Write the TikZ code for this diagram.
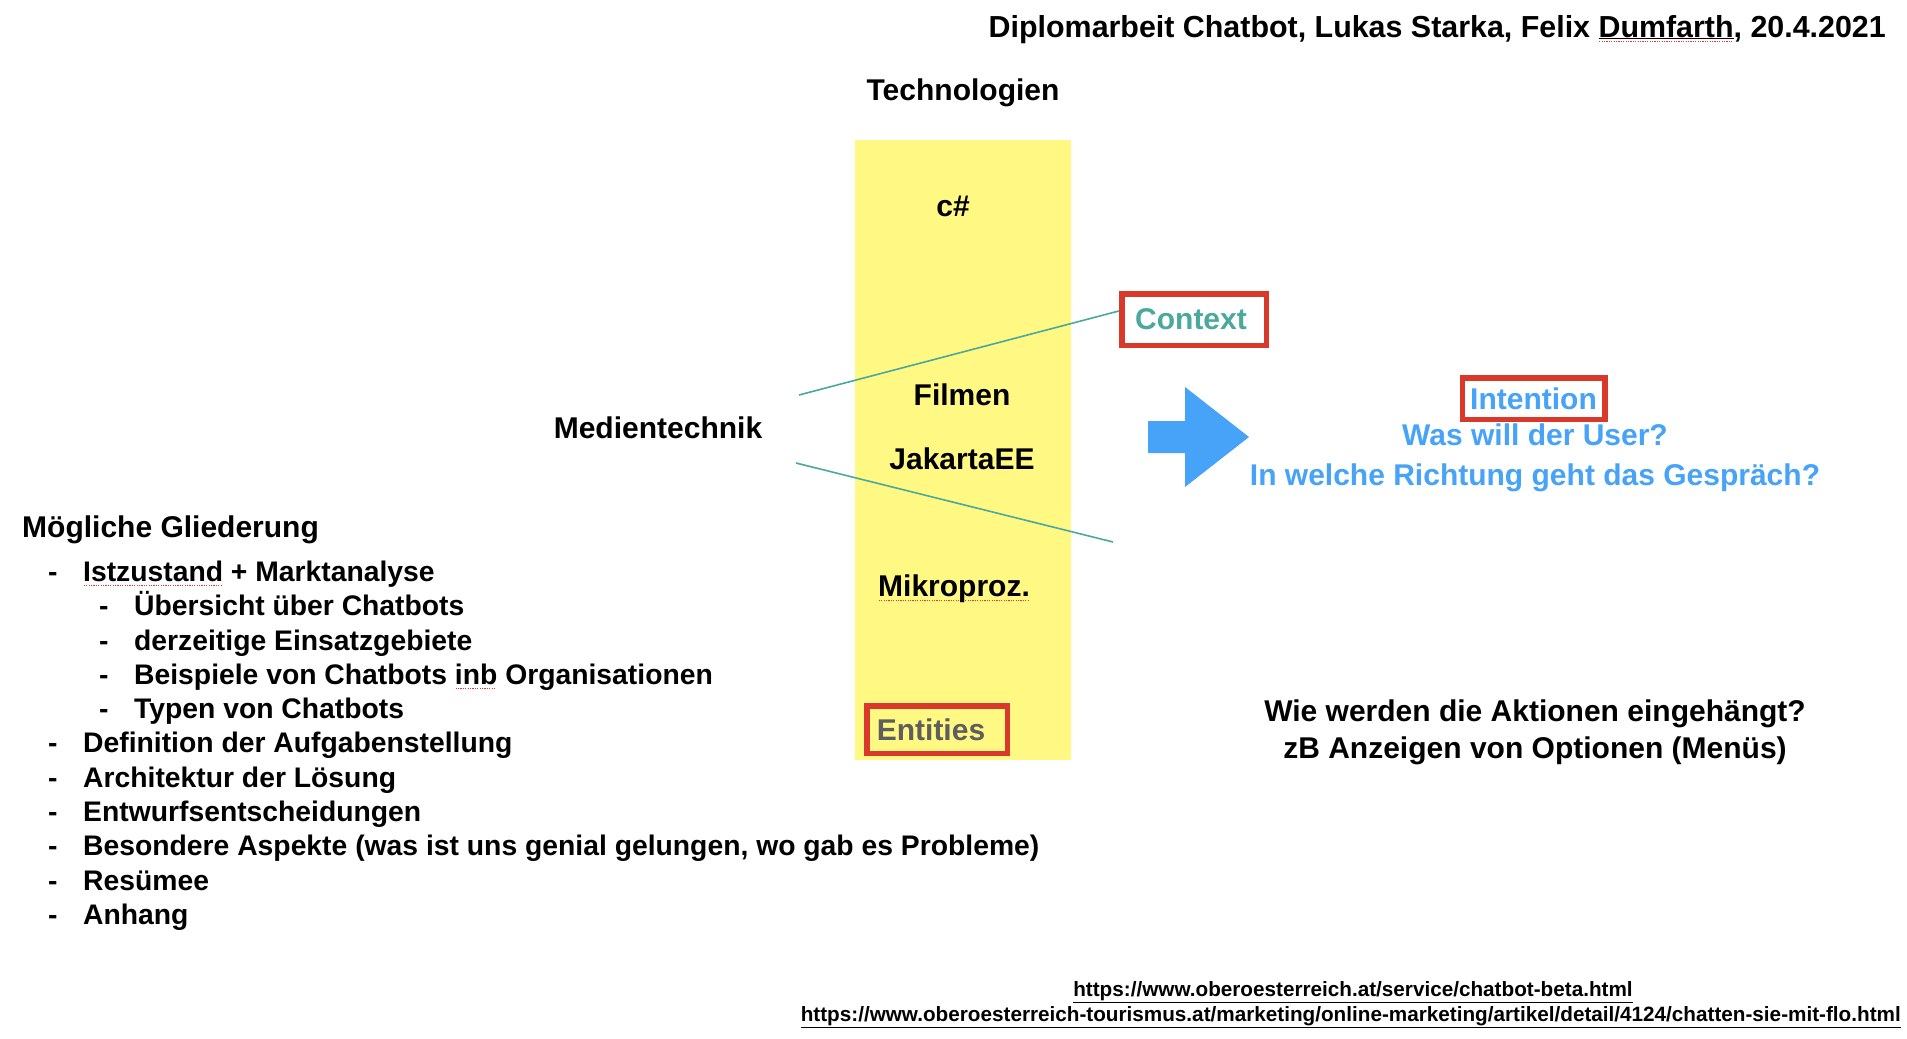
\documentclass[tikz,border=0pt]{standalone}
\usepackage{fontspec}
\setmainfont{Liberation Sans}
\usetikzlibrary{calc}
\definecolor{hlyellow}{RGB}{255,248,131}
\definecolor{ctxteal}{RGB}{75,168,156}
\definecolor{intblue}{RGB}{71,163,247}
\definecolor{boxred}{RGB}{217,57,42}
\definecolor{entgray}{RGB}{94,94,94}
\definecolor{spellred}{RGB}{235,50,50}
\newcommand\spellmk[1]{\setbox0=\hbox{#1}\rlap{\color{spellred}\raisebox{-5bp}{\leaders\hbox to 2.4bp{\hss\rule{1.1bp}{1.1bp}\hss}\hskip\wd0}}\box0\relax}
\begin{document}
\begin{tikzpicture}[x=1bp,y=-1bp,
  lbl/.style={font=\fontsize{30bp}{36bp}\selectfont\bfseries, inner sep=0pt, anchor=base},
  item/.style={font=\fontsize{28.3bp}{34bp}\selectfont\bfseries, inner sep=0pt, anchor=base west},
  url/.style={font=\fontsize{20.7bp}{24bp}\selectfont\bfseries, inner sep=0pt, anchor=base},
  boxlbl/.style={draw=boxred, line width=5.5bp, font=\fontsize{30bp}{36bp}\selectfont\bfseries, inner sep=0pt, anchor=center},
  link/.style={draw=ctxteal, line width=1.6bp}]
\useasboundingbox (0,0) rectangle (1907,1038);
\fill[white] (0,0) rectangle (1907,1038);

% title
\node[lbl, font=\fontsize{30.4bp}{36bp}\selectfont\bfseries, anchor=base east] (title) at (1886,37) {Diplomarbeit Chatbot, Lukas Starka, Felix \spellmk{\underline{Dumfarth}}, 20.4.2021};

% technology column
\node[lbl] (tech) at (963,100) {Technologien};
\node[fill=hlyellow, minimum width=216bp, minimum height=620bp, inner sep=0pt] (techcol) at (963,450) {};
\node[lbl] (csharp) at (953,216) {c\#};
\node[lbl] (film) at (962,405) {Filmen};
\node[lbl] (jakarta) at (962,469) {JakartaEE};
\node[lbl] (mikro) at (954,596) {\spellmk{Mikroproz.}};
\node[boxlbl, text=entgray, minimum width=140.5bp, minimum height=47.5bp] (ent) at (937,729.5) {Entities\hspace*{12bp}};

\node[lbl] (medien) at (658,438) {Medientechnik};

% context
\node[boxlbl, text=ctxteal, minimum width=144.5bp, minimum height=51.5bp] (ctx) at (1194,319.5) {Context\hspace*{6bp}};
\coordinate (m1) at (799,395);
\coordinate (m2) at (796,463);
\coordinate (m2end) at (1113,542);
\draw[link] (m1) -- ($(ctx.north west)!0.35!(ctx.south west)$);
\draw[link] (m2) -- (m2end);

% arrow
\fill[intblue] (1148,421) -- (1185,421) -- (1185,387) -- (1249,437) -- (1185,487) -- (1185,453) -- (1148,453) -- cycle;

% intention
\node[boxlbl, text=intblue, minimum width=142.5bp, minimum height=41.5bp] (intent) at (1533.5,398.5) {Intention};
\node[lbl, text=intblue] (was) at (1535,445) {Was will der User?};
\node[lbl, text=intblue] (richt) at (1535,485) {In welche Richtung geht das Gespräch?};

\node[lbl] (wie) at (1535,721) {Wie werden die Aktionen eingehängt?};
\node[lbl] (zb) at (1535,758) {zB Anzeigen von Optionen (Menüs)};

% outline list
\node[lbl, anchor=base west] (glied) at (22,537) {Mögliche Gliederung};
\node[item] (d1) at (48,581) {-};  \node[item] (li1) at (83,581) {\spellmk{Istzustand} + Marktanalyse};
\node[item] (d2) at (99,615) {-};  \node[item] (li2) at (134,615) {Übersicht über Chatbots};
\node[item] (d3) at (99,650) {-};  \node[item] (li3) at (134,650) {derzeitige Einsatzgebiete};
\node[item] (d4) at (99,684) {-};  \node[item] (li4) at (134,684) {Beispiele von Chatbots \spellmk{inb} Organisationen};
\node[item] (d5) at (99,718) {-};  \node[item] (li5) at (134,718) {Typen von Chatbots};
\node[item] (d6) at (48,752) {-};  \node[item] (li6) at (83,752) {Definition der Aufgabenstellung};
\node[item] (d7) at (48,787) {-};  \node[item] (li7) at (83,787) {Architektur der Lösung};
\node[item] (d8) at (48,821) {-};  \node[item] (li8) at (83,821) {Entwurfsentscheidungen};
\node[item] (d9) at (48,855) {-};  \node[item] (li9) at (83,855) {Besondere Aspekte (was ist uns genial gelungen, wo gab es Probleme)};
\node[item] (d10) at (48,890) {-}; \node[item] (li10) at (83,890) {Resümee};
\node[item] (d11) at (48,924) {-}; \node[item] (li11) at (83,924) {Anhang};

% urls
\node[url] (url1) at (1353,996) {\underline{https://www.oberoesterreich.at/service/chatbot-beta.html}};
\node[url, anchor=base east] (url2) at (1901,1021) {\underline{https://www.oberoesterreich-tourismus.at/marketing/online-marketing/artikel/detail/4124/chatten-sie-mit-flo.html}};
\end{tikzpicture}
\end{document}
